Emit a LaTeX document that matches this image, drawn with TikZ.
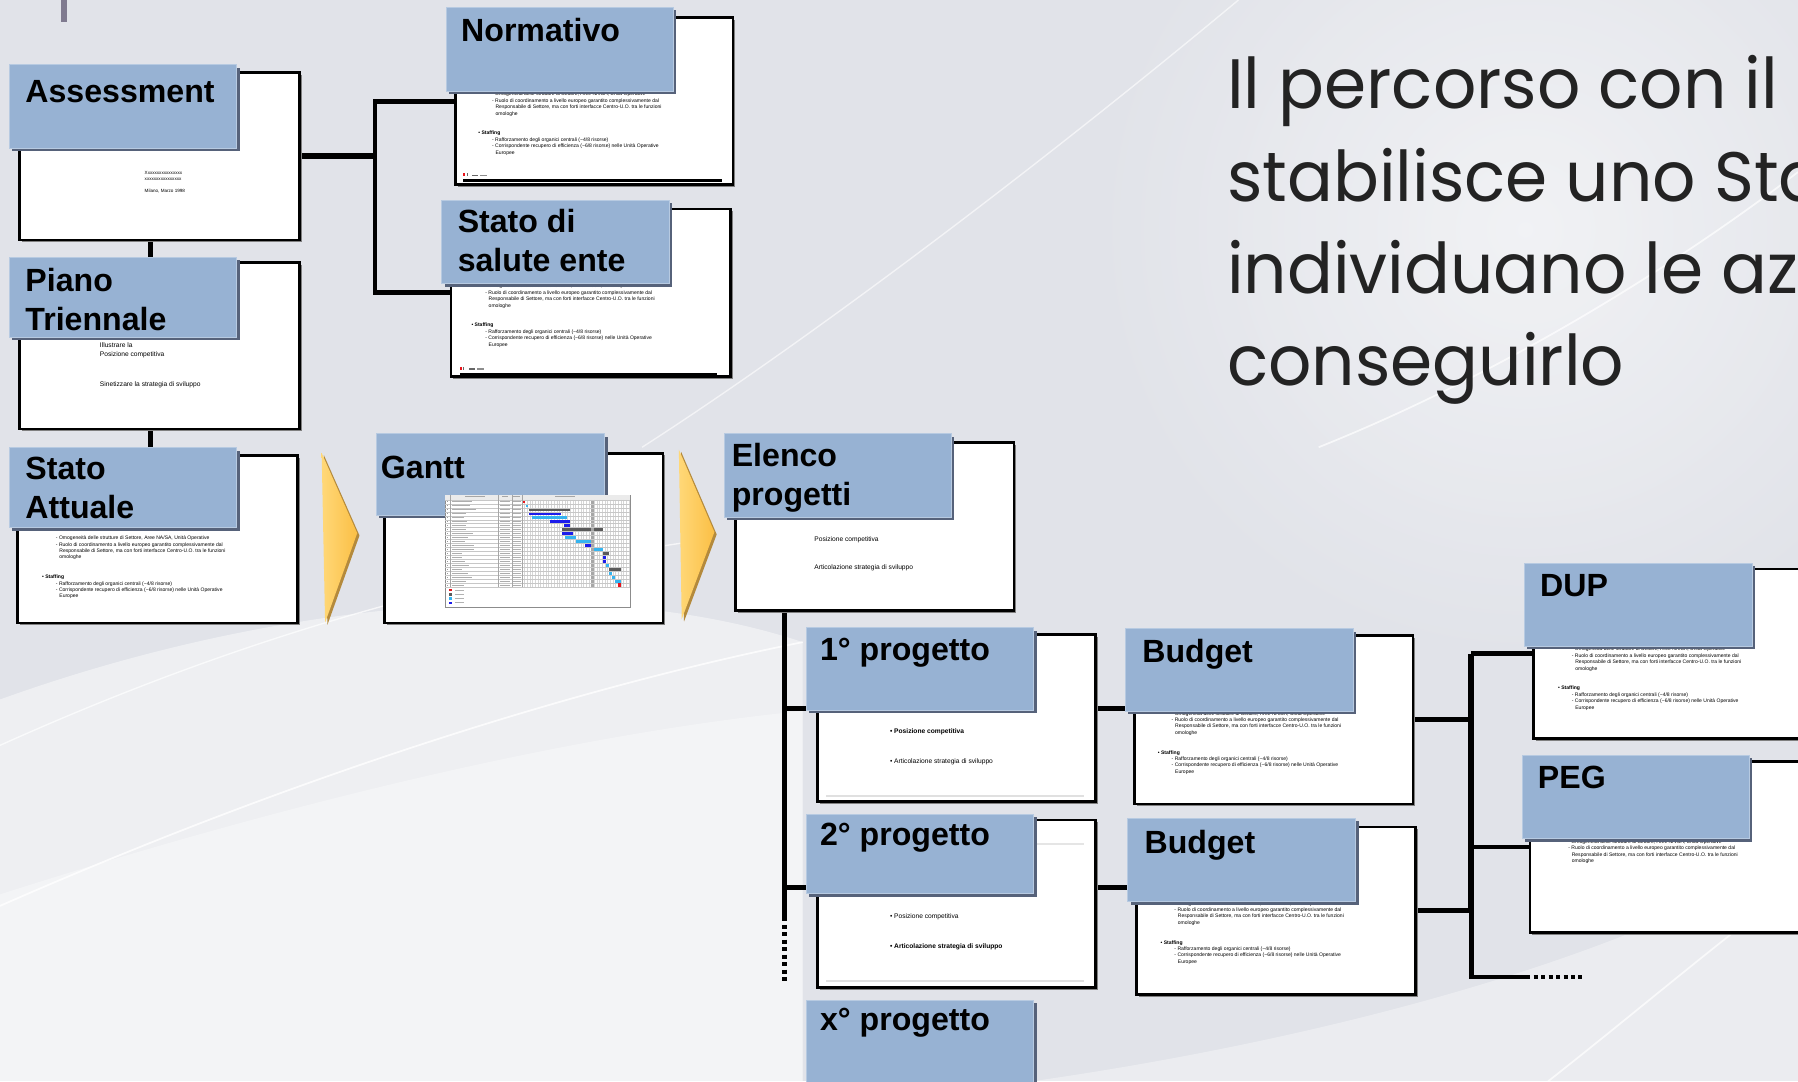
\documentclass[tikz,border=0pt]{standalone}
\usepackage{fontspec}
\setmainfont{Liberation Sans}
\newfontfamily\titlefont{Poppins}[FakeStretch=0.97]
\usetikzlibrary{shadows}
\pgfdeclarelayer{back}
\pgfdeclarelayer{wires}
\pgfsetlayers{back,wires,main}

\definecolor{bgbase}{HTML}{E1E3E9}
\definecolor{lblblue}{HTML}{97B2D3}
\definecolor{lbledge}{HTML}{B7CAE1}
\definecolor{lblshade}{HTML}{56627A}
\definecolor{chevlight}{HTML}{FFD878}
\definecolor{chevgold}{HTML}{FBBF45}
\definecolor{chevdark}{HTML}{B48A3C}
\definecolor{gred}{HTML}{E8141B}
\definecolor{gdark}{HTML}{5A5A5A}
\definecolor{glight}{HTML}{35B4F0}
\definecolor{gblue}{HTML}{1C1CEB}
\definecolor{barpurple}{HTML}{7F7A8F}
\definecolor{titleink}{HTML}{232323}

% body text of the small slide thumbnails
\newcommand{\orgfirst}{%
\hspace*{12pt}- Omogeneità delle strutture di Settore, Aree NA/SA, Unità Operative\\
\hspace*{12pt}- Ruolo di coordinamento a livello europeo garantito complessivamente dal\\
\hspace*{15pt}Responsabile di Settore, ma con forti interfacce Centro-U.O. tra le funzioni\\
\hspace*{15pt}omologhe}
\newcommand{\orgfull}{\orgfirst\\[11.6pt]
{\bfseries • Staffing}\\
\hspace*{12pt}- Rafforzamento degli organici centrali (\textasciitilde 4/8 risorse)\\
\hspace*{12pt}- Corrispondente recupero di efficienza (\textasciitilde 6/8 risorse) nelle Unità Operative\\
\hspace*{15pt}Europee}
% #1 name, #2 slide node, #3 dx, #4 dy, #5 content
\newcommand{\orgnote}[5]{\node[tinytxt] (#1) at ([shift={(#3,#4)}]#2.north west) {#5};}

\begin{document}
\begin{tikzpicture}[x=1pt,y=-1pt,
  slidebox/.style={draw=black, line width=2.4pt, fill=white, anchor=north west, inner sep=0pt,
    drop shadow={shadow xshift=2pt, shadow yshift=-2pt, fill=black!50, opacity=1}},
  lblbox/.style={fill=lblblue, draw=lbledge, line width=0.8pt, anchor=north west, inner sep=0pt,
    drop shadow={shadow xshift=2.5pt, shadow yshift=-2.5pt, fill=lblshade, opacity=1}},
  lbltxt/.style={font=\fontsize{28}{34}\selectfont\bfseries, anchor=base west, inner sep=0pt, align=left},
  tinytxt/.style={font=\fontsize{4.4}{5.6}\selectfont, anchor=north west, inner sep=0pt, align=left},
  smalltxt/.style={font=\fontsize{5.8}{7}\selectfont, anchor=base west, inner sep=0pt},
  titletxt/.style={font=\titlefont\fontsize{61}{70}\selectfont, text=titleink, anchor=base west, inner sep=0pt},
  wire/.style={line width=4.2pt, line join=miter},
  thickwire/.style={line width=5pt, line join=miter},
  dotwire/.style={line width=4pt, dash pattern=on 3.5pt off 3pt},
  chevron/.style={shading=axis, left color=chevlight, right color=chevgold},
  ]
\useasboundingbox (0,0) rectangle (1568,943);

% ---------- background ----------
\begin{pgfonlayer}{back}
\fill[bgbase] (0,0) rectangle (1568,943);
\shade[inner color=white, outer color=bgbase, opacity=.55] (1330,200) circle (380);
\fill[white, opacity=.45] (0,943) -- (0,610) .. controls (250,520) and (520,500) .. (700,560) -- (700,943) -- cycle;
\fill[white, opacity=.35] (0,943) -- (0,780) .. controls (250,700) and (500,640) .. (700,620) -- (700,943) -- cycle;
\fill[white, opacity=.35] (900,943) .. controls (1200,900) and (1450,820) .. (1568,740) -- (1568,943) -- cycle;
\draw[white, opacity=.8, line width=1.5pt] (0,790) .. controls (250,680) and (500,600) .. (700,560);
\draw[white, opacity=.7, line width=1.2pt] (0,650) .. controls (200,560) and (400,500) .. (620,470);
\draw[white, opacity=.6, line width=1.2pt] (560,390) .. controls (700,300) and (900,150) .. (1080,0);
\draw[white, opacity=.7, line width=1.5pt] (1150,390) .. controls (1300,330) and (1450,240) .. (1568,150);
\draw[white, opacity=.7, line width=1.5pt] (1350,943) .. controls (1430,880) and (1500,820) .. (1568,770);
\end{pgfonlayer}
\fill[barpurple] (53,0) rectangle (58,19);

% ---------- Assessment ----------
\node[slidebox, minimum width=244pt, minimum height=146pt] (aW) at (16,62) {};
\node[smalltxt, font=\fontsize{4}{5}\selectfont] (aX1) at ([shift={(110,90)}]aW.north west) {Xxxxxxxxxxxxxxxx};
\node[smalltxt, font=\fontsize{4}{5}\selectfont] (aX2) at ([shift={(110,95)}]aW.north west) {xxxxxxxxxxxxxxxx};
\node[smalltxt, font=\fontsize{4}{5}\selectfont] (aX3) at ([shift={(110,106)}]aW.north west) {Milano, Marzo 1998};
\node[lblbox, minimum width=198pt, minimum height=73pt] (aL) at (8,56) {};
\node[lbltxt] (aT) at ([shift={(14,33)}]aL.north west) {Assessment};

% ---------- Piano Triennale ----------
\node[slidebox, minimum width=244pt, minimum height=145pt] (pW) at (16,228) {};
\node[smalltxt] (pX1) at ([shift={(71,75)}]pW.north west) {Illustrare la};
\node[smalltxt] (pX2) at ([shift={(71,83)}]pW.north west) {Posizione competitiva};
\node[smalltxt] (pX3) at ([shift={(71,109)}]pW.north west) {Sinetizzare la strategia di sviluppo};
\node[lblbox, minimum width=198pt, minimum height=70pt] (pL) at (8,224) {};
\node[lbltxt] (pT) at ([shift={(14,64)}]pL.north west) {Piano\\Triennale};

% ---------- Stato Attuale ----------
\node[slidebox, minimum width=244pt, minimum height=146pt] (sW) at (14,396) {};
\orgnote{sX}{sW}{22.6}{71.2}{\orgfull}
\node[lblbox, minimum width=198pt, minimum height=70pt] (sL) at (8,390) {};
\node[lbltxt] (sT) at ([shift={(14,62)}]sL.north west) {Stato\\Attuale};

% ---------- Normativo ----------
\node[slidebox, minimum width=242pt, minimum height=146pt] (nW) at (396,14) {};
\orgnote{nX}{nW}{21}{66.2}{\orgfull}
\fill[black] ([shift={(8,-6)}]nW.south west) rectangle ++(226,2);
\fill[gred] ([shift={(8,-9)}]nW.south west) rectangle ++(1.6,-2.6);
\fill[black!60] ([shift={(11,-9)}]nW.south west) rectangle ++(1,-2.6);
\fill[black!60] ([shift={(16,-9)}]nW.south west) rectangle ++(5,-1.2);
\fill[black!45] ([shift={(23,-9)}]nW.south west) rectangle ++(6,-1.2);
\node[lblbox, minimum width=198pt, minimum height=73pt] (nL) at (389,6) {};
\node[lbltxt] (nT) at ([shift={(13,30)}]nL.north west) {Normativo};

% ---------- Stato di salute ente ----------
\node[slidebox, minimum width=244pt, minimum height=146pt] (hW) at (392,181) {};
\orgnote{hX}{hW}{19}{66.7}{\orgfull}
\fill[black] ([shift={(9,-4)}]hW.south west) rectangle ++(224,2);
\fill[gred] ([shift={(9,-7)}]hW.south west) rectangle ++(1.6,-2.6);
\fill[black!60] ([shift={(12,-7)}]hW.south west) rectangle ++(1,-2.6);
\fill[black!60] ([shift={(17,-7)}]hW.south west) rectangle ++(5,-1.2);
\fill[black!45] ([shift={(24,-7)}]hW.south west) rectangle ++(6,-1.2);
\node[lblbox, minimum width=198pt, minimum height=73pt] (hL) at (385,174) {};
\node[lbltxt] (hT) at ([shift={(14,63)}]hL.north west) {Stato di\\salute ente};

% ---------- chevrons ----------
\fill[chevdark] (282.5,397) -- (313.5,467) -- (285.5,545) -- cycle;
\shade[chevron] (280.5,395) -- (311.5,465) -- (283.5,543) -- cycle;
\fill[chevdark] (594,394) -- (625,466) -- (596.5,542) -- cycle;
\shade[chevron] (592,392) -- (623,464) -- (594.5,540) -- cycle;

% ---------- Gantt ----------
\node[slidebox, minimum width=243pt, minimum height=148pt] (gW) at (334,394) {};
\node[lblbox, minimum width=199pt, minimum height=71pt] (gL) at (328,378) {};
\node[lbltxt] (gT) at ([shift={(4,39)}]gL.north west) {Gantt};
\node[draw=black!45, line width=0.6pt, fill=white, anchor=north west, inner sep=0pt,
      minimum width=161pt, minimum height=97pt] (gImg) at (388,432) {};
\begin{scope}[shift={(gImg.north west)}, x=0.2917pt, y=-0.29pt]
  \fill[black!8] (0,0) rectangle (552,13);
  \foreach \gx in {238,246,...,552} \draw[black!16, line width=0.2pt] (\gx,13) -- (\gx,277);
  \fill[black!35] (436,13) rectangle (445,277);
  \foreach \r in {0,...,22} \draw[black!22, line width=0.25pt] (0,{13+12*\r}) -- (552,{13+12*\r});
  \foreach \cx in {15,160,200,230} \draw[black!35, line width=0.3pt] (\cx,0) -- (\cx,277);
  \foreach \r/\len in {1/60,2/52,3/70,4/40,5/36,6/44,7/40,8/42,9/62,10/48,11/38,12/66,13/64,14/30,15/30,16/38,17/50,18/30,19/46,20/60,21/40,22/36}{
    \fill[black!32] (22,{7+12*\r-1.3}) rectangle ++(\len,2.6);
    \fill[black!32] (164,{7+12*\r-1.3}) rectangle ++(30,2.6);
    \fill[black!32] (203,{7+12*\r-1.3}) rectangle ++(24,2.6);
    \fill[black!40] (5,{7+12*\r-1.3}) rectangle ++(4,2.6);
  }
  \fill[black!35] (60,3) rectangle ++(60,3);
  \fill[black!35] (170,3) rectangle ++(20,3);
  \fill[black!35] (205,3) rectangle ++(18,3);
  \fill[black!35] (330,3) rectangle ++(60,3);
  \foreach \r/\a/\b/\c in {1/233/240/gred, 2/241/248/glight, 3/250/375/gdark, 4/250/347/gblue,
      5/261/365/glight, 6/313/375/gblue, 7/357/375/gblue, 8/349/437/gdark, 8/445/473/gdark,
      9/349/383/gblue, 10/358/392/glight, 11/393/437/glight, 12/420/437/gblue, 13/446/473/glight,
      14/473/490/gdark, 15/473/481/gblue, 16/473/481/gblue, 17/482/490/glight, 18/492/526/gdark,
      19/491/499/glight, 20/500/508/glight, 21/509/526/glight}
    \fill[\c] (\a,{7+12*\r-3.5}) rectangle (\b,{7+12*\r+3.5});
  \fill[gred] (518,{7+12*22-6}) rectangle (526,{7+12*22+6});
  \foreach \k/\c in {0/gred,1/gdark,2/glight,3/gblue}{
    \fill[\c] (12,{282+12.5*\k}) rectangle ++(8,7);
    \fill[black!30] (30,{284.5+12.5*\k}) rectangle ++(26,2.6);
  }
\end{scope}

% ---------- Elenco progetti ----------
\node[slidebox, minimum width=243pt, minimum height=146pt] (eW) at (640,385) {};
\node[smalltxt] (eX1) at ([shift={(70,87)}]eW.north west) {Posizione competitiva};
\node[smalltxt] (eX2) at ([shift={(70,112)}]eW.north west) {Articolazione strategia di sviluppo};
\node[lblbox, minimum width=198pt, minimum height=73pt] (eL) at (631,378) {};
\node[lbltxt] (eT) at ([shift={(7,63)}]eL.north west) {Elenco\\progetti};

% ---------- 1° progetto ----------
\node[slidebox, minimum width=242pt, minimum height=146pt] (p1W) at (712,552) {};
\fill[black!12] ([shift={(8,-5)}]p1W.south west) rectangle ++(225,-2);
\node[smalltxt, font=\fontsize{5.8}{7}\selectfont\bfseries] (p1X1) at ([shift={(64,88)}]p1W.north west) {• Posizione competitiva};
\node[smalltxt] (p1X2) at ([shift={(64,114)}]p1W.north west) {• Articolazione strategia di sviluppo};
\node[lblbox, minimum width=198pt, minimum height=72pt] (p1L) at (703,547) {};
\node[lbltxt] (p1T) at ([shift={(12,29)}]p1L.north west) {1° progetto};

% ---------- 2° progetto ----------
\node[slidebox, minimum width=242pt, minimum height=146pt] (p2W) at (712,714) {};
\fill[black!12] ([shift={(8,-6)}]p2W.south west) rectangle ++(225,-2);
\fill[black!10] ([shift={(188,21)}]p2W.north west) rectangle ++(45,1.6);
\node[smalltxt] (p2X1) at ([shift={(64,87)}]p2W.north west) {• Posizione competitiva};
\node[smalltxt, font=\fontsize{5.8}{7}\selectfont\bfseries] (p2X2) at ([shift={(64,113)}]p2W.north west) {• Articolazione strategia di sviluppo};
\node[lblbox, minimum width=198pt, minimum height=69pt] (p2L) at (703,710) {};
\node[lbltxt] (p2T) at ([shift={(12,27)}]p2L.north west) {2° progetto};

% ---------- x° progetto ----------
\node[lblbox, minimum width=198pt, minimum height=90pt] (pxL) at (703,872) {};
\node[lbltxt] (pxT) at ([shift={(12,27)}]pxL.north west) {x° progetto};

% ---------- Budget ----------
\node[slidebox, minimum width=243pt, minimum height=147pt] (b1W) at (988,553) {};
\orgnote{b1X}{b1W}{21.6}{67.2}{\orgfull}
\node[lblbox, minimum width=199pt, minimum height=72pt] (b1L) at (981,548) {};
\node[lbltxt] (b1T) at ([shift={(15,30)}]b1L.north west) {Budget};

\node[slidebox, minimum width=243pt, minimum height=146pt] (b2W) at (990,720) {};
\orgnote{b2X}{b2W}{22}{65.9}{\orgfull}
\node[lblbox, minimum width=199pt, minimum height=73pt] (b2L) at (983,713) {};
\node[lbltxt] (b2T) at ([shift={(15,31)}]b2L.north west) {Budget};

% ---------- DUP / PEG ----------
\node[slidebox, minimum width=260pt, minimum height=148pt] (dW) at (1336,495) {};
\orgnote{dX}{dW}{22.6}{69.2}{\orgfull}
\node[lblbox, minimum width=199pt, minimum height=72pt] (dL) at (1329,491) {};
\node[lbltxt] (dT) at ([shift={(14,29)}]dL.north west) {DUP};

\node[slidebox, minimum width=260pt, minimum height=149pt] (gpW) at (1333,663) {};
\orgnote{gpX}{gpW}{22.5}{69.2}{\orgfirst}
\node[lblbox, minimum width=198pt, minimum height=73pt] (gpL) at (1327,658) {};
\node[lbltxt] (gpT) at ([shift={(14,30)}]gpL.north west) {PEG};

% ---------- title ----------
\node[titletxt] (t1) at (1070,95) {Il percorso con il};
\node[titletxt] (t2) at (1070,176) {stabilisce uno Sta};
\node[titletxt] (t3) at (1070,256) {individuano le az};
\node[titletxt] (t4) at (1070,336) {conseguirlo};

% ---------- connectors ----------
\coordinate (ja) at (327,0);
\coordinate (te) at (684,0);
\coordinate (tu) at (1283,0);
\coordinate (teEnd) at (684,800);
\coordinate (teDot) at (684,858);
\coordinate (tuLow) at (1283,852);
\coordinate (tuMid) at (1331,852);
\coordinate (tuDot) at (1380,852);
\coordinate (c1) at ([yshift=8pt]p1W.east);
\coordinate (c2) at ([yshift=14pt]p2W.east);
\coordinate (k1) at ([yshift=8pt]p1W.west);
\coordinate (k2) at ([yshift=14pt]p2W.west);
\begin{pgfonlayer}{wires}
  \draw[thickwire] ([xshift=-8pt]aW.south) -- ([xshift=-8pt]aW.south |- pW.north);
  \draw[thickwire] ([xshift=-8pt]pW.south) -- ([xshift=-8pt]pW.south |- sW.north);
  \draw[thickwire] (aW.east) -- (aW.east -| ja);
  \draw[wire] (nW.west) -| (ja |- aW.east);
  \draw[wire] (hW.west) -| (ja |- aW.east);
  \draw[wire] (eW.south -| te) -- (teEnd);
  \draw[dotwire] (teEnd) -- (teDot);
  \draw[wire] (k1) -- (k1 -| te);
  \draw[wire] (k2) -- (k2 -| te);
  \draw[wire] (c1) -- (c1 -| b1W.west);
  \draw[wire] (c2) -- (c2 -| b2W.west);
  \draw[wire] (b1W.east) -- (b1W.east -| tu);
  \draw[wire] (b2W.east) -- (b2W.east -| tu);
  \draw[thickwire] (tu |- dW.west) -- (tu |- b2W.east);
  \draw[wire] (dW.west) -- (dW.west -| tu);
  \draw[wire] (gpW.west) -- (gpW.west -| tu);
  \draw[wire] (tu |- b2W.east) -- (tuLow) -- (tuMid);
  \draw[dotwire] (tuMid) -- (tuDot);
\end{pgfonlayer}
\end{tikzpicture}
\end{document}
